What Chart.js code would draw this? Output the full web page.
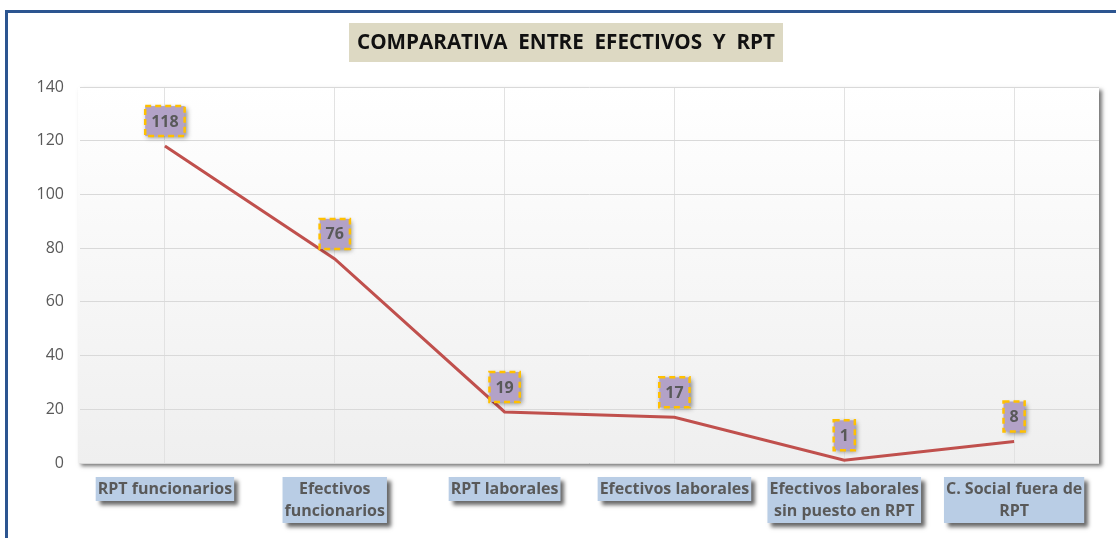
<!DOCTYPE html>
<html>
<head>
<meta charset="utf-8">
<script src="https://cdn.jsdelivr.net/npm/chart.js@4/dist/chart.umd.min.js"></script>
<style>
  html, body { margin: 0; padding: 0; background: #fff; }
  #wrap { position: relative; width: 1116px; height: 538px; overflow: hidden; }
  #frame { position: absolute; left: 5px; top: 10px; right: -10px; bottom: -10px;
           border-top: 3px solid #2c5590; border-left: 3px solid #2c5590; pointer-events: none; }
  canvas { position: absolute; left: 0; top: 0; }
</style>
</head>
<body>
<div id="wrap">
  <canvas id="lineChart" width="1116" height="538"></canvas>
  <div id="frame"></div>
</div>
<script>
const chartTitle = 'COMPARATIVA  ENTRE  EFECTIVOS  Y  RPT';
const categories = [
  ['RPT funcionarios'],
  ['Efectivos', 'funcionarios'],
  ['RPT laborales'],
  ['Efectivos laborales'],
  ['Efectivos laborales', 'sin puesto en RPT'],
  ['C. Social fuera de', 'RPT']
];
const values = [118, 76, 19, 17, 1, 8];
const yTicks = { min: 0, max: 140, step: 20 };

const FONT = "'Open Sans', 'DejaVu Sans', sans-serif";

// fondo del area de trazado con sombra y degradado
const plotBackground = {
  id: 'plotBackground',
  beforeDraw(chart) {
    const { ctx, chartArea: a } = chart;
    ctx.save();
    ctx.shadowColor = 'rgba(0,0,0,0.55)';
    ctx.shadowBlur = 4;
    ctx.shadowOffsetX = 3;
    ctx.shadowOffsetY = 3;
    const g = ctx.createLinearGradient(0, a.top, 0, a.bottom);
    g.addColorStop(0, '#ffffff');
    g.addColorStop(1, '#efefef');
    ctx.fillStyle = g;
    ctx.fillRect(a.left - 2, a.top, a.right - a.left + 2, a.bottom - a.top);
    ctx.restore();

    // titulo
    ctx.save();
    ctx.fillStyle = '#ddd9c3';
    ctx.fillRect(349, 23, 434, 39);
    ctx.fillStyle = '#111';
    ctx.font = 'bold 21px ' + FONT;
    ctx.textAlign = 'center';
    ctx.textBaseline = 'middle';
    ctx.fillText(chartTitle, 566, 43, 418);
    ctx.restore();
  }
};

// etiquetas de datos y de categorias
const boxLabels = {
  id: 'boxLabels',
  afterDatasetsDraw(chart) {
    const { ctx } = chart;
    const meta = chart.getDatasetMeta(0);
    ctx.save();
    ctx.font = 'bold 16px ' + FONT;
    ctx.textAlign = 'center';
    ctx.textBaseline = 'middle';
    meta.data.forEach((pt, i) => {
      const txt = String(values[i]);
      const w = ctx.measureText(txt).width + 12;
      const h = 30;
      const cx = pt.x, cy = pt.y - 25;
      ctx.save();
      ctx.shadowColor = 'rgba(0,0,0,0.45)';
      ctx.shadowBlur = 5;
      ctx.shadowOffsetX = 2;
      ctx.shadowOffsetY = 2;
      ctx.fillStyle = '#b3a2c7';
      ctx.fillRect(cx - w / 2, cy - h / 2, w, h);
      ctx.restore();
      ctx.save();
      ctx.strokeStyle = '#ffc000';
      ctx.lineWidth = 2.5;
      ctx.setLineDash([6, 4]);
      ctx.strokeRect(cx - w / 2, cy - h / 2, w, h);
      ctx.restore();
      ctx.fillStyle = '#595959';
      ctx.fillText(txt, cx, cy + 1);
    });

    const xs = chart.scales.x;
    ctx.font = 'bold 16px ' + FONT;
    categories.forEach((lines, i) => {
      const cx = xs.getPixelForValue(i);
      const w = Math.min(155, Math.max(...lines.map(l => ctx.measureText(l).width)) + 4);
      const h = lines.length * 22 + 2;
      const top = 477;
      ctx.save();
      ctx.shadowColor = 'rgba(0,0,0,0.6)';
      ctx.shadowBlur = 4;
      ctx.shadowOffsetX = 4;
      ctx.shadowOffsetY = 4;
      ctx.fillStyle = '#b9cde5';
      ctx.fillRect(cx - w / 2, top, w, h);
      ctx.restore();
      ctx.fillStyle = '#595959';
      lines.forEach((l, j) => ctx.fillText(l, cx, top + 12 + j * 22, w - 4));
    });
    ctx.restore();
  }
};

new Chart(document.getElementById('lineChart'), {
  type: 'line',
  data: {
    labels: categories,
    datasets: [{
      data: values,
      borderColor: '#c0504d',
      borderWidth: 3,
      pointRadius: 0,
      tension: 0
    }]
  },
  options: {
    responsive: false,
    animation: false,
    layout: { padding: { left: 0, top: 87, right: 17, bottom: 75 } },
    plugins: { legend: { display: false }, tooltip: { enabled: false } },
    scales: {
      x: {
        offset: true,
        grid: { offset: false, color: '#e2e2e2', drawTicks: false },
        border: { display: false },
        ticks: { display: false },
        afterFit(s) { s.height = 0; }
      },
      y: {
        min: yTicks.min,
        max: yTicks.max,
        grid: { color: '#d9d9d9', drawTicks: false },
        border: { display: false },
        ticks: {
          stepSize: yTicks.step,
          color: '#595959',
          padding: 16,
          font: { size: 16, family: FONT }
        },
        afterFit(s) { s.width = 80; }
      }
    }
  },
  plugins: [plotBackground, boxLabels]
});
</script>
</body>
</html>
